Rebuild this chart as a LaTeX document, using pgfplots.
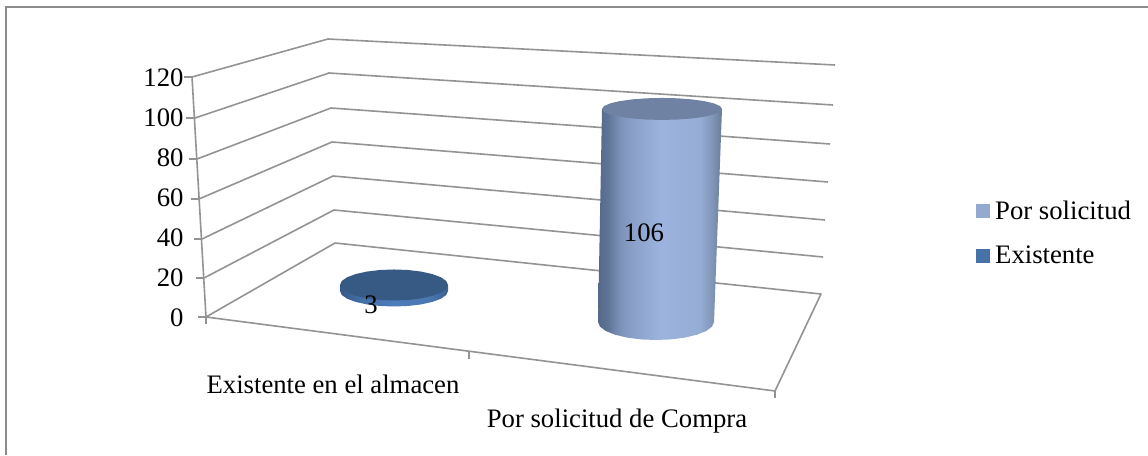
\documentclass[border=0pt]{standalone}
\usepackage{pgfplots}
\pgfplotsset{compat=1.18}
\usepackage{fontspec}
\setmainfont{Liberation Serif}
\definecolor{gridgray}{HTML}{939393}
\definecolor{framegray}{HTML}{8C8C8C}
\definecolor{topbig}{HTML}{6F82A3}
\definecolor{topsmall}{HTML}{375A85}
\definecolor{legA}{HTML}{93A9D0}
\definecolor{legB}{HTML}{4672A8}
\definecolor{ba}{HTML}{55688A}
\definecolor{bb}{HTML}{5F7496}
\definecolor{bc}{HTML}{7C92B8}
\definecolor{bd}{HTML}{8AA0C8}
\definecolor{be}{HTML}{9BB3DE}
\definecolor{bf}{HTML}{96ADD5}
\definecolor{bg}{HTML}{8196B8}
\definecolor{bh}{HTML}{6A7C98}
\definecolor{sa}{HTML}{365A88}
\definecolor{sb}{HTML}{4470A8}
\definecolor{sc}{HTML}{4C7CBA}
\definecolor{sd}{HTML}{4A78B2}
\definecolor{se}{HTML}{3A6090}
\pgfdeclarehorizontalshading{cylbig}{100bp}{color(0bp)=(ba);color(25bp)=(ba);color(29bp)=(bb);color(34bp)=(bc);color(39bp)=(bd);color(50bp)=(be);color(66bp)=(bf);color(71bp)=(bg);color(75bp)=(bh);color(100bp)=(bh)}
\pgfdeclarehorizontalshading{cylsmall}{100bp}{color(0bp)=(sa);color(25bp)=(sa);color(35bp)=(sb);color(50bp)=(sc);color(66bp)=(sd);color(75bp)=(se);color(100bp)=(se)}
\pgfplotsset{base/.style={width=1148pt,height=455pt,scale only axis,xmin=0,xmax=1148,clip=false,hide axis},
 wall/.style={gridgray,line width=1.6pt,no markers,line join=round}}
\newcommand{\lab}{\fontsize{26.7}{30}\selectfont}
\begin{document}
\begin{tikzpicture}
\useasboundingbox (0,0) rectangle (1148pt,455pt);
% walls and floor, in picture coordinates
\begin{axis}[base,ymin=0,ymax=455,y dir=reverse,
 legend style={at={(axis cs:976,199)},anchor=north west,draw=none,fill=none,font=\lab,row sep=21pt,inner sep=0pt,cells={anchor=west}},
 legend cell align=left]
\addlegendimage{legend image code/.code={\fill[legA,draw=none] (0pt,-7pt) rectangle (14pt,7pt);\path[draw=none,fill=none] (0pt,0pt) -- (17pt,0pt);}}
\addlegendentry{Por solicitud}
\addlegendimage{legend image code/.code={\fill[legB,draw=none] (0pt,-7pt) rectangle (14pt,7pt);\path[draw=none,fill=none] (0pt,0pt) -- (17pt,0pt);}}
\addlegendentry{Existente}
\addplot[framegray,line width=2pt,no markers] coordinates {(5.5,455) (5.5,6.5) (1148,6.5)};
\addplot[wall] coordinates {(192,77) (328,39) (835,65)};
\addplot[wall] coordinates {(195,118) (329,73) (833,105)};
\addplot[wall] coordinates {(197,159) (331,108) (830,144)};
\addplot[wall] coordinates {(199,199) (332,142) (828,182)};
\addplot[wall] coordinates {(202,239) (333,176) (825,220)};
\addplot[wall] coordinates {(204,278) (334,210) (823,257)};
\addplot[wall] coordinates {(206,317) (335,243) (821,294) (775,391) (206,317)};
\addplot[wall] coordinates {(192,77) (206,317)};
\addplot[wall] coordinates {(184,77) (192,77)};
\addplot[wall] coordinates {(186,118) (195,118)};
\addplot[wall] coordinates {(189,159) (197,159)};
\addplot[wall] coordinates {(191,199) (199,199)};
\addplot[wall] coordinates {(194,239) (202,239)};
\addplot[wall] coordinates {(196,278) (204,278)};
\addplot[wall] coordinates {(198,317) (206,317)};
\addplot[wall] coordinates {(206,317) (206,324)};
\addplot[wall] coordinates {(469,351) (469,359)};
\addplot[wall] coordinates {(775,391) (775,398)};
\node[font=\lab] at (axis cs:333,384) {Existente en el almacen};
\node[font=\lab] at (axis cs:617,421) {Por solicitud de Compra};
\end{axis}
% value scale of the left wall
\begin{axis}[base,ymin=-69,ymax=158.5,
 axis y line*=left,axis x line=none,hide axis=false,axis line style={draw=none},
 xtick=\empty,
 ytick={0,20,40,60,80,100,120},major tick length=0pt,
 yticklabel style={anchor=east,xshift=187pt,yshift=-0.5pt,font=\lab,/pgf/number format/assume math mode=true}]
\addplot[draw=none,no markers] coordinates {(200,0) (200,120)};
\end{axis}
% Por solicitud de Compra: 106, base at picture row 322, 2.01 px per unit
\begin{axis}[base,ymin=-66.17,ymax=160.2]
\addplot[draw=none,shading=cylbig] coordinates {(602,106) (722,106) (714,0)
 (712,-2.32) (706.2,-4.48) (697,-6.32) (685,-7.76) (671,-8.66) (656,-8.96)
 (641,-8.66) (627,-7.76) (615,-6.32) (605.8,-4.48) (600,-2.32) (598,0)} -- cycle;
\addplot[draw=none,fill=topbig] coordinates {(722,106) (720,107.42) (714,108.74) (704.4,109.87) (692,110.74) (677.5,111.29) (662,111.47)
 (646.5,111.29) (632,110.74) (619.6,109.87) (610,108.74) (604,107.42) (602,106)
 (604,104.58) (610,103.26) (619.6,102.13) (632,101.26) (646.5,100.71) (662,100.53)
 (677.5,100.71) (692,101.26) (704.4,102.13) (714,103.26) (720,104.58)} -- cycle;
\node[font=\lab] at (axis cs:644,44.5) {106};
\end{axis}
% Existente en el almacen: 3, base at picture row 291
\begin{axis}[base,ymin=-81.6,ymax=144.8]
\addplot[draw=none,shading=cylsmall] coordinates {(340,3) (448,3) (448,0)
 (446.2,-2) (440.8,-3.86) (432.2,-5.45) (421,-6.68) (408,-7.45) (394,-7.71)
 (380,-7.45) (367,-6.68) (355.8,-5.45) (347.2,-3.86) (341.8,-2) (340,0)} -- cycle;
\addplot[draw=none,fill=topsmall] coordinates {(448,3) (446.2,5) (440.8,6.86) (432.2,8.45) (421,9.68) (408,10.45) (394,10.71)
 (380,10.45) (367,9.68) (355.8,8.45) (347.2,6.86) (341.8,5) (340,3)
 (341.8,1) (347.2,-0.86) (355.8,-2.45) (367,-3.68) (380,-4.45) (394,-4.71)
 (408,-4.45) (421,-3.68) (432.2,-2.45) (440.8,-0.86) (446.2,1)} -- cycle;
\node[font=\lab] at (axis cs:371,-7) {3};
\end{axis}
\end{tikzpicture}
\end{document}
